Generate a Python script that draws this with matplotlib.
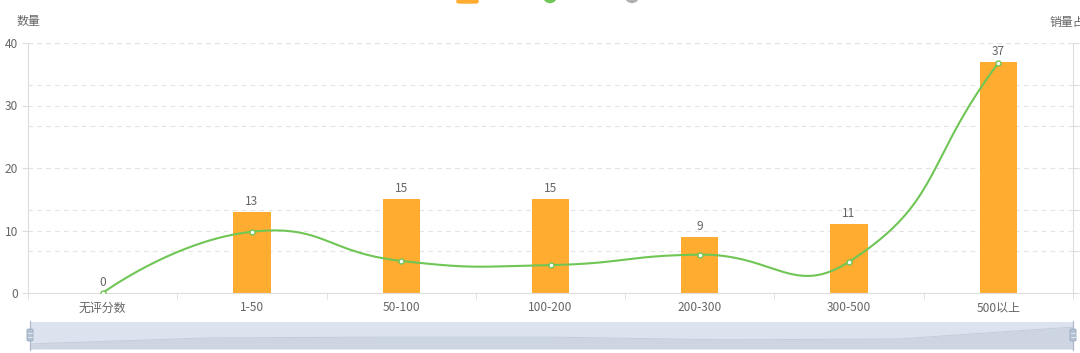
import numpy as np
import matplotlib
matplotlib.use('Agg')
import matplotlib.pyplot as plt
from matplotlib.patches import Rectangle, Ellipse, FancyBboxPatch
from matplotlib.transforms import blended_transform_factory

plt.rcParams['font.family'] = ['Noto Sans CJK SC', 'DejaVu Sans']

# ---------------- data ----------------
categories = ['无评分数', '1-50', '50-100', '100-200', '200-300', '300-500', '500以上']
counts = [0, 13, 15, 15, 9, 11, 37]             # 数量 (bars, left axis)
share = [0, 14.7, 7.7, 6.7, 9.2, 7.5, 55.2]      # 销量占比 (line, right axis, %)
left_ticks = [0, 10, 20, 30, 40]
right_ticks = [0, 10, 20, 30, 40, 50, 60]

BAR_C = '#ffac30'
LINE_C = '#6fc655'
TXT_C = '#666666'
GRID_C = '#e3e3e3'
AX_C = '#dddddd'
FS = 8.6

W, H = 1080, 353
fig = plt.figure(figsize=(W / 100, H / 100), dpi=100)


def fx(px):
    return px / W


def fy(py):
    return 1 - py / H


x0, x1, ytop, ybot = 28, 1073, 43, 293
ax = fig.add_axes([fx(x0), fy(ybot), (x1 - x0) / W, (ybot - ytop) / H])
ax2 = ax.twinx()
ax2.set_zorder(ax.get_zorder() + 1)
ax2.patch.set_visible(False)

n = len(categories)
xs = np.arange(n)
ax.set_xlim(-0.5, n - 0.5)
ax.set_ylim(left_ticks[0], left_ticks[-1])
ax2.set_ylim(right_ticks[0], right_ticks[-1])

# grid lines (dashed) for both axes, behind bars
for v in left_ticks[1:]:
    ax.axhline(v, color=GRID_C, lw=0.8, ls=(0, (4, 4)), zorder=0)
tr = blended_transform_factory(ax.transAxes, ax2.transData)
for v in right_ticks[1:]:
    ax.plot([0, 1], [v, v], transform=tr, color=GRID_C, lw=0.8,
            ls=(0, (4, 4)), zorder=0)

# bars
bars = ax.bar(xs, counts, width=0.25, color=BAR_C, zorder=2)
ax.bar_label(bars, labels=[str(c) for c in counts], padding=3,
             color=TXT_C, fontsize=FS)

# smooth line (echarts-like bezier smoothing, computed in pixel space)
sx = (x1 - x0) / n
sy = (ybot - ytop) / (right_ticks[-1] - right_ticks[0])
P = np.array([[x * sx, v * sy] for x, v in zip(xs, share)])
smooth = 0.5
pts = []
cp0 = P[0].copy()
for k in range(1, n):
    p = P[k]
    prev = P[k - 1]
    nxt = P[k + 1] if k + 1 < n else p
    v = nxt - prev
    lp = np.hypot(*(p - prev))
    ln = np.hypot(*(nxt - p))
    r = ln / (ln + lp) if (ln + lp) > 0 else 0
    ncp0 = p - v * smooth * (1 - r)
    ncp1 = p + v * smooth * r
    t = np.linspace(0, 1, 40)[:, None]
    a = P[k - 1]
    seg = ((1 - t) ** 3) * a + 3 * ((1 - t) ** 2) * t * cp0 + 3 * (1 - t) * t ** 2 * ncp0 + t ** 3 * p
    pts.append(seg)
    cp0 = ncp1
curve = np.vstack(pts)
ax2.plot(curve[:, 0] / sx, curve[:, 1] / sy, color=LINE_C, lw=1.5, zorder=3,
         solid_capstyle='round')
ax2.plot(xs, share, ls='none', marker='o', ms=3.6, mfc='white', mec=LINE_C,
         mew=1.0, zorder=4)

# axes styling
ax.set_xticks(xs)
ax.set_xticklabels(categories, color=TXT_C, fontsize=FS)
ax.set_xticks(np.arange(n + 1) - 0.5, minor=True)
ax.tick_params(axis='x', which='major', length=0, pad=6)
ax.tick_params(axis='x', which='minor', length=4, color=AX_C, direction='out')
ax.set_yticks(left_ticks)
ax.set_yticklabels([str(v) for v in left_ticks], color=TXT_C, fontsize=FS)
ax.tick_params(axis='y', length=4, color=AX_C, pad=3)
ax2.set_yticks(right_ticks)
ax2.tick_params(axis='y', length=4, color=AX_C, labelright=False)

for a in (ax, ax2):
    a.spines['top'].set_visible(False)
    for s in ('left', 'right', 'bottom'):
        a.spines[s].set_color(AX_C)
        a.spines[s].set_linewidth(0.8)
ax.spines['right'].set_visible(False)
ax2.spines['left'].set_visible(False)
ax2.spines['bottom'].set_visible(False)
ax.set_facecolor('none')

# axis names
fig.text(fx(28), fy(22), '数量', ha='center', va='center', color=TXT_C, fontsize=FS)
fig.text(fx(1050), fy(22), '销量占比', ha='left', va='center', color=TXT_C, fontsize=FS)

# legend fragments (cut off at top)
fig.patches.append(FancyBboxPatch((fx(457), fy(3)), fx(478) - fx(457), 12 / H,
                                  boxstyle='round,pad=0,rounding_size=0.003',
                                  transform=fig.transFigure, color=BAR_C, zorder=5))
fig.patches.append(Ellipse((fx(550), fy(-4)), 13 / W, 13 / H, transform=fig.transFigure,
                           color=LINE_C, zorder=5))
fig.patches.append(Ellipse((fx(632), fy(-4)), 13 / W, 13 / H, transform=fig.transFigure,
                           color='#b0b0b0', zorder=5))

# data zoom slider
sl_l, sl_r, sl_t, sl_b = 30, 1073, 322, 349
sl = fig.add_axes([fx(sl_l), fy(sl_b), (sl_r - sl_l) / W, (sl_b - sl_t) / H])
ext = max(counts) - min(counts)
lo, hi = min(counts) - ext * 0.3, max(counts) + ext * 0.3
sl.set_xlim(0, n - 1)
sl.set_ylim(lo, hi)
sl.axis('off')
sl.add_patch(Rectangle((0, 0), 1, 1, transform=sl.transAxes, color='#dde3ee', zorder=0))
sl.fill_between(xs, lo, counts, color='#cdd5e2', lw=0, zorder=1)
sl.plot(xs, counts, color='#c3ccdb', lw=0.7, zorder=2)
for hx in (sl_l, sl_r):
    fig.lines.append(plt.Line2D([fx(hx), fx(hx)], [fy(sl_t - 1), fy(sl_b + 1)],
                                transform=fig.transFigure, color='#a8b6c8', lw=0.8))
    fig.patches.append(FancyBboxPatch((fx(hx - 3), fy(341)), 6 / W, 12 / H,
                                      boxstyle='round,pad=0,rounding_size=0.002',
                                      transform=fig.transFigure, fc='#b4c1d2',
                                      ec='#9aaabf', lw=0.6, zorder=6))
    for yy in (333, 337):
        fig.lines.append(plt.Line2D([fx(hx - 2), fx(hx + 2)], [fy(yy), fy(yy)],
                                    transform=fig.transFigure, color='#e8edf4', lw=0.6,
                                    zorder=7))

fig.savefig('out.png', dpi=100)
